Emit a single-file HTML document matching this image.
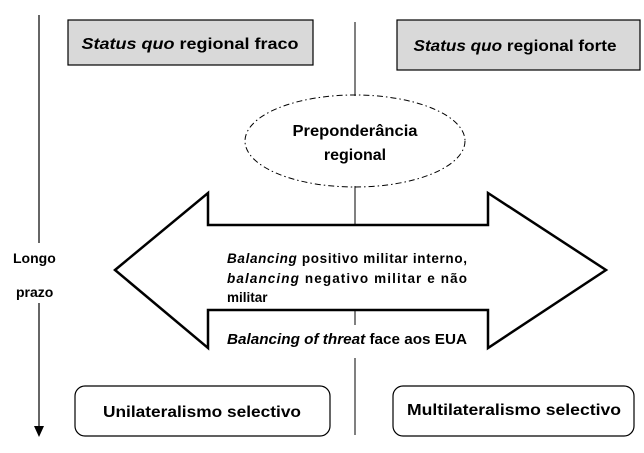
<!DOCTYPE html>
<html><head><meta charset="utf-8"><style>
body{margin:0;background:#fff;}
svg text{font-family:"Liberation Sans",sans-serif;font-weight:bold;fill:#000;}
</style></head><body>
<svg width="644" height="448" viewBox="0 0 644 448" xmlns="http://www.w3.org/2000/svg">
<line x1="39" y1="15" x2="39" y2="243" stroke="#000" stroke-width="1.2"/>
<line x1="39" y1="303" x2="39" y2="428" stroke="#000" stroke-width="1.2"/>
<polygon points="34,426 44,426 39,437" fill="#000"/>
<text x="13" y="263" font-size="14">Longo</text>
<text x="16" y="297" font-size="14">prazo</text>
<line x1="355" y1="22" x2="355" y2="96" stroke="#000" stroke-width="1"/>
<line x1="355" y1="186" x2="355" y2="232" stroke="#000" stroke-width="1"/>
<line x1="355" y1="310" x2="355" y2="330" stroke="#000" stroke-width="1"/>
<line x1="355" y1="358" x2="355" y2="435" stroke="#000" stroke-width="1"/>
<rect x="68" y="20" width="245" height="45" fill="#d9d9d9" stroke="#000" stroke-width="1.2"/>
<text x="190" y="49" font-size="16" text-anchor="middle" textLength="217" lengthAdjust="spacingAndGlyphs"><tspan font-style="italic">Status quo</tspan> regional fraco</text>
<rect x="397" y="20" width="243" height="50" fill="#d9d9d9" stroke="#000" stroke-width="1.2"/>
<text x="515" y="51" font-size="16" text-anchor="middle" textLength="203" lengthAdjust="spacingAndGlyphs"><tspan font-style="italic">Status quo</tspan> regional forte</text>
<ellipse cx="355" cy="141" rx="110" ry="46" fill="none" stroke="#000" stroke-width="1" stroke-dasharray="6,3,1.5,3"/>
<text x="355" y="136" font-size="16" text-anchor="middle" textLength="125" lengthAdjust="spacingAndGlyphs">Preponderância</text>
<text x="355" y="160" font-size="16" text-anchor="middle">regional</text>
<polygon points="115,270 208,193 208,225 488,225 488,193 606,270 488,348 488,310 208,310 208,348" fill="#fff" stroke="#000" stroke-width="2.5" stroke-linejoin="miter"/>
<rect x="210" y="233" width="276" height="72" fill="#fff"/>
<rect x="215" y="322" width="266" height="28" fill="#fff"/>
<line x1="355" y1="312" x2="355" y2="325" stroke="#000" stroke-width="1"/>
<text x="227" y="263" font-size="13.5" textLength="240" lengthAdjust="spacing"><tspan font-style="italic">Balancing</tspan> positivo militar interno,</text>
<text x="227" y="283" font-size="13.5" textLength="240" lengthAdjust="spacing"><tspan font-style="italic">balancing</tspan> negativo militar e não</text>
<text x="227" y="302" font-size="13.5">militar</text>
<text x="227" y="344" font-size="15" textLength="240" lengthAdjust="spacingAndGlyphs"><tspan font-style="italic">Balancing of threat</tspan> face aos EUA</text>
<rect x="75" y="386" width="255" height="50" rx="10" fill="#fff" stroke="#000" stroke-width="1.2"/>
<text x="202" y="417" font-size="16" text-anchor="middle" textLength="198" lengthAdjust="spacingAndGlyphs">Unilateralismo selectivo</text>
<rect x="393" y="386" width="241" height="50" rx="10" fill="#fff" stroke="#000" stroke-width="1.2"/>
<text x="514" y="415" font-size="16" text-anchor="middle" textLength="214" lengthAdjust="spacingAndGlyphs">Multilateralismo selectivo</text>
</svg>
</body></html>
